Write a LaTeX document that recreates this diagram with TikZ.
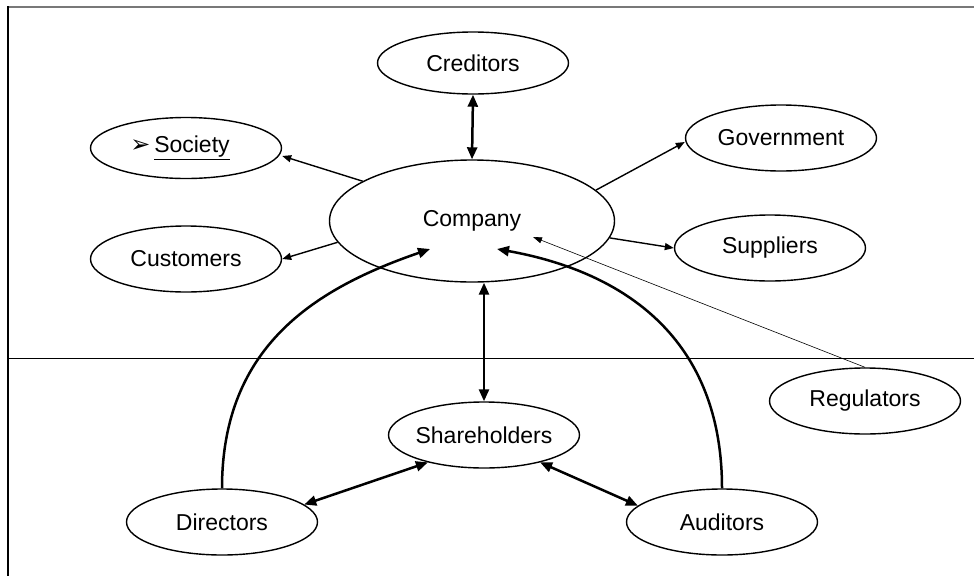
\documentclass[tikz,border=0pt]{standalone}
\usepackage{fontspec}
\setmainfont{Liberation Sans}
\newfontfamily\dingfont{DejaVu Sans}
\usepackage{tikz}
\usetikzlibrary{shapes, arrows.meta, positioning, calc}
\definecolor{rulegray}{RGB}{120, 120, 120}

\tikzset{
  party/.style={draw, ellipse, line width=1.4pt, minimum width=191pt, minimum height=66pt,
    inner xsep=-30pt, inner ysep=0pt, font=\fontsize{23}{27}\selectfont},
  link/.style={line width=1.4pt, -{Triangle[length=9pt, width=7pt]}},
  faint/.style={line width=0.6pt, -{Triangle[length=9pt, width=6pt]}},
  tie/.style={line width=2.5pt, {Triangle[length=12pt, width=10pt]}-{Triangle[length=12pt, width=10pt]}},
  pull/.style={line width=2.5pt, -{Triangle[length=12pt, width=10pt]}},
}

\begin{document}
\begin{tikzpicture}[x=1pt, y=-1pt]
  \useasboundingbox (0,0) rectangle (974,576);

  % Frame and the dividing rule
  \draw[rulegray, line width=1.6pt] (8,7) -- (974,7);
  \draw[line width=1.1pt] (8,6) -- (8,576);
  \draw[line width=0.9pt] (8,358) -- (974,358);

  % Company in the middle, parties round it
  \node[party, minimum width=285pt, minimum height=122pt] (company) at (472,221) {Company};
  \node[party, minimum height=62pt] (creditors) at (473,63) {Creditors};
  \node[party, minimum height=61pt] (society) at (186,148)
    {\hspace*{-12pt}{\dingfont\fontsize{24}{24}\selectfont ➢}\,\underline{Society}};
  \node[party] (government) at (781,138) {Government};
  \node[party] (customers) at (186,259) {Customers};
  \node[party] (suppliers) at (770,248) {Suppliers};
  \node[party] (regulators) at (865,401) {Regulators};

  % Governance below the rule
  \node[party] (shareholders) at (484,435) {Shareholders};
  \node[party] (directors) at (222,522) {Directors};
  \node[party] (auditors) at (722,522) {Auditors};

  \coordinate (dirtip) at (430,249);
  \coordinate (audtip) at (497,249);
  \coordinate (regtip) at (533,237);

  % Outward links
  \draw[link] (company.160) -- ([yshift=-8pt]society.east);
  \draw[link] (company.189) -- (customers.east);
  \draw[link] (company.14) -- ([yshift=-4pt]government.west);
  \draw[link] (company.-7) -- (suppliers.west);
  \draw[faint] (regulators.north) -- (regtip);

  % Two-way ties
  \draw[tie] (creditors.south) -- (company.north);
  \draw[tie] (company.south -| shareholders.north) -- (shareholders.north);
  \draw[tie] (directors.12) -- (shareholders.206);
  \draw[tie] (shareholders.-26) -- (auditors.169);

  % Arcs up into the company
  \draw[pull] (directors.north) .. controls (222,345) and (317,288) .. (dirtip);
  \draw[pull] (auditors.north) .. controls (722,339) and (625,272) .. (audtip);
\end{tikzpicture}
\end{document}
